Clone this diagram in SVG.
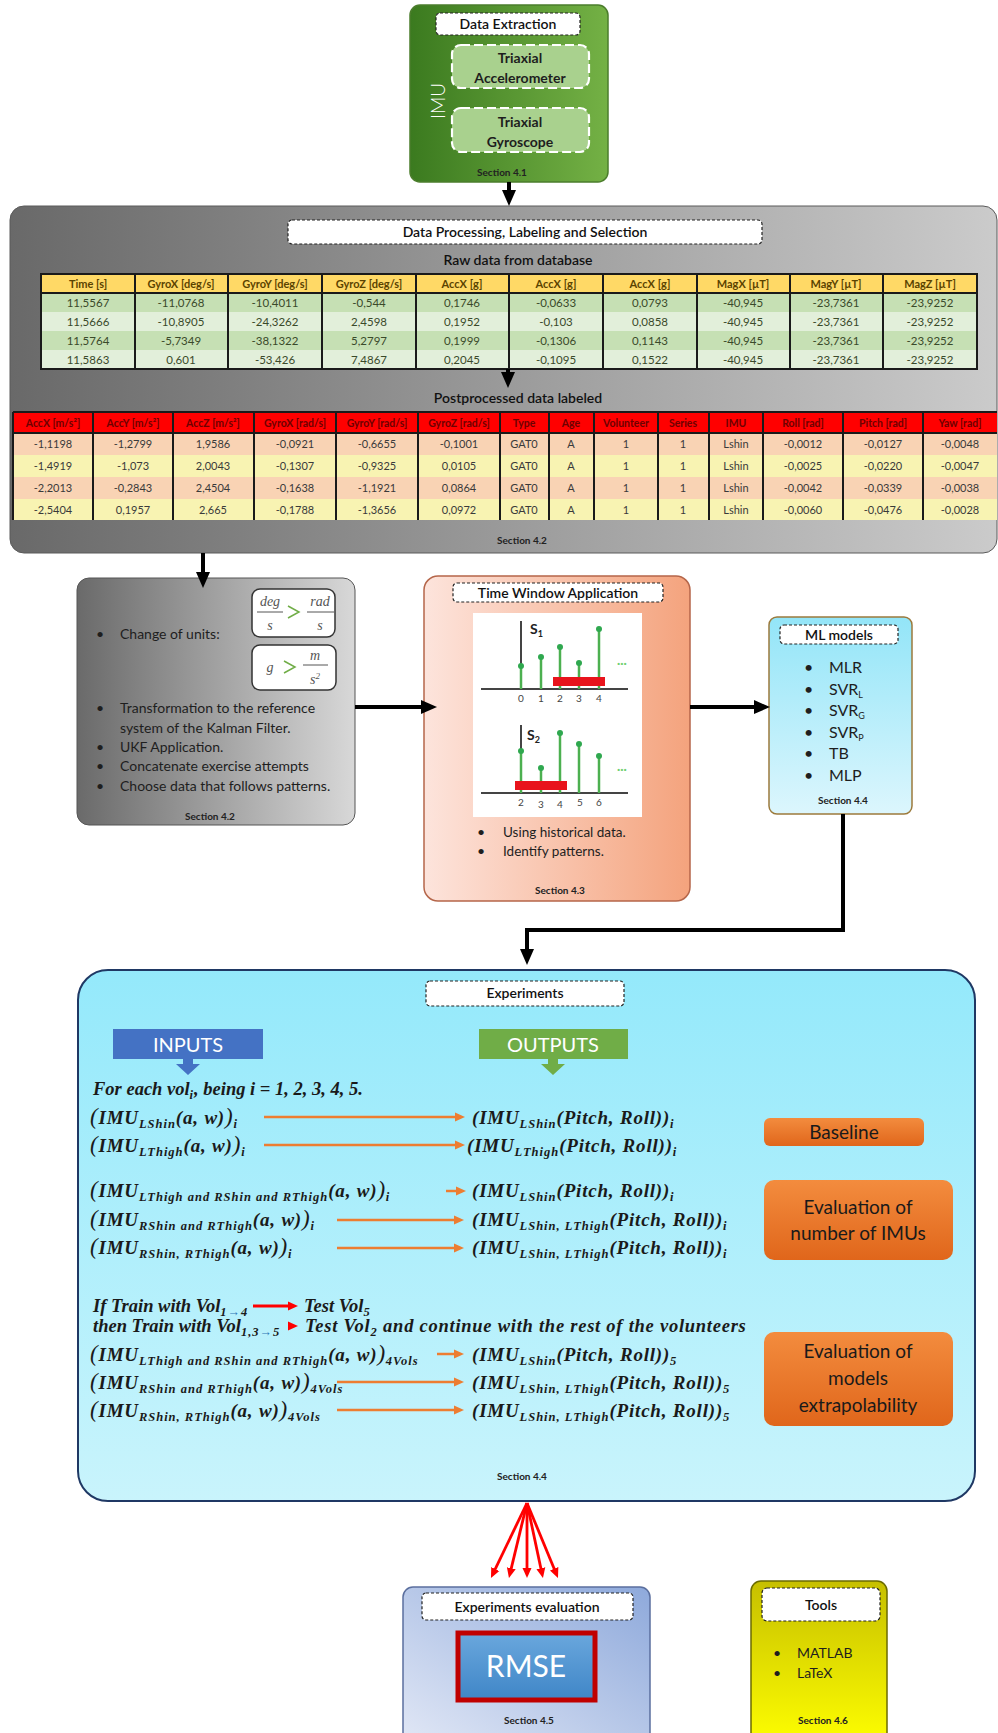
<svg xmlns="http://www.w3.org/2000/svg" width="998" height="1733" viewBox="0 0 998 1733">
<defs>
  <linearGradient id="gImu" x1="0" y1="0" x2="1" y2="0">
    <stop offset="0" stop-color="#3b7a1f"/><stop offset="1" stop-color="#74b145"/>
  </linearGradient>
  <linearGradient id="gGray" x1="0" y1="0" x2="1" y2="0">
    <stop offset="0" stop-color="#696969"/><stop offset="1" stop-color="#cbcbcb"/>
  </linearGradient>
  <linearGradient id="gGray2" x1="0" y1="0" x2="1" y2="0">
    <stop offset="0" stop-color="#6a6a6a"/><stop offset="1" stop-color="#d8d8d8"/>
  </linearGradient>
  <linearGradient id="gSalmon" x1="0" y1="0" x2="1" y2="0">
    <stop offset="0" stop-color="#fde4dc"/><stop offset="1" stop-color="#f4a37d"/>
  </linearGradient>
  <linearGradient id="gCyan" x1="0" y1="0" x2="0" y2="1">
    <stop offset="0" stop-color="#93e5f8"/><stop offset="1" stop-color="#dcf6fd"/>
  </linearGradient>
  <linearGradient id="gExp" x1="0" y1="0" x2="0" y2="1">
    <stop offset="0" stop-color="#94e9fb"/><stop offset="1" stop-color="#c9f4fc"/>
  </linearGradient>
  <linearGradient id="gOrange" x1="0" y1="0" x2="0" y2="1">
    <stop offset="0" stop-color="#f38c3e"/><stop offset="1" stop-color="#e0661b"/>
  </linearGradient>
  <linearGradient id="gEval" x1="1" y1="0" x2="0" y2="1">
    <stop offset="0" stop-color="#8ea9db"/><stop offset="1" stop-color="#e2e8f6"/>
  </linearGradient>
  <linearGradient id="gRmse" x1="0" y1="0" x2="0" y2="1">
    <stop offset="0" stop-color="#6aa7dd"/><stop offset="1" stop-color="#3f86c7"/>
  </linearGradient>
  <linearGradient id="gYellow" x1="0" y1="0" x2="0" y2="1">
    <stop offset="0" stop-color="#c6bf00"/><stop offset="1" stop-color="#ffff00"/>
  </linearGradient>
  <marker id="ahBlack" viewBox="0 0 16 16" markerUnits="userSpaceOnUse" markerWidth="16" markerHeight="16" refX="4" refY="8" orient="auto">
    <path d="M0,1 L16,8 L0,15 z" fill="#000"/>
  </marker>
  <marker id="ahOrange" viewBox="0 0 10 10" markerUnits="userSpaceOnUse" markerWidth="10" markerHeight="10" refX="2" refY="5" orient="auto">
    <path d="M0,0.5 L10,5 L0,9.5 z" fill="#ed7d31"/>
  </marker>
  <marker id="ahRed" viewBox="0 0 10 10" markerUnits="userSpaceOnUse" markerWidth="10" markerHeight="10" refX="3" refY="5" orient="auto">
    <path d="M0,0.5 L10,5 L0,9.5 z" fill="#ff0000"/>
  </marker>
  <style>
    text { font-family: Lato, "Liberation Sans", sans-serif; }
    .dash { fill: #fff; stroke: #222; stroke-width: 1.2; stroke-dasharray: 3 2; }
    .ttl { font-size: 14px; font-weight: 600; fill: #111; text-anchor: middle; }
    .sec { font-size: 10px; font-weight: 700; fill: #222; text-anchor: middle; }
    .tri { fill: #a9d18e; stroke: #fff; stroke-width: 2.2; stroke-dasharray: 9 4; }
    .triT { font-size: 14px; font-weight: 700; fill: #1e1e1e; text-anchor: middle; }
    .t1h { font-size: 11px; font-weight: 700; fill: #5b4300; text-anchor: middle; }
    .t1d { font-size: 11.5px; fill: #3a4a2a; text-anchor: middle; }
    .t2h { font-size: 10.5px; font-weight: 700; fill: #6e0000; text-anchor: middle; }
    .t2d { font-size: 11px; fill: #3a3a3a; text-anchor: middle; }
    .vsep { stroke: #1a1a1a; stroke-width: 2; }
    .body { font-size: 14px; fill: #1e1e1e; }
    .blt { font-size: 14px; fill: #1e1e1e; }
    .ml { font-size: 16px; fill: #1e1e1e; }
    .frac { font-family: "Liberation Serif", serif; font-style: italic; font-size: 14px; fill: #555; text-anchor: middle; }
    .m { font-family: "Liberation Serif", "DejaVu Serif", serif; font-style: italic; font-weight: 700; font-size: 19px; letter-spacing: 0.8px; fill: #1a1a1a; }
    .t { font-family: "Liberation Serif", "DejaVu Serif", serif; font-style: italic; font-weight: 700; font-size: 18.5px; fill: #1a1a1a; }
    .s { font-size: 12.5px; letter-spacing: 1px; }
    .bp { font-size: 23px; font-weight: 400; }
    .obox { fill: url(#gOrange); }
    .oT { font-size: 19px; fill: #1a1a1a; text-anchor: middle; }
    .conn { stroke: #000; stroke-width: 4; fill: none; marker-end: url(#ahBlack); }
    .oarr { stroke: #ed7d31; stroke-width: 2.5; marker-end: url(#ahOrange); }
    .rarr { stroke: #ff0000; stroke-width: 2.8; marker-end: url(#ahRed); }
    .stem { stroke: #4cb050; stroke-width: 2.5; }
    .dot { fill: #2fa84f; }
    .tick { font-size: 10px; fill: #444; text-anchor: middle; }
  </style>
</defs>

<rect width="998" height="1733" fill="#fff"/>

<!-- IMU data extraction -->
<g id="imu">
  <rect x="410" y="5" width="198" height="177" rx="10" fill="url(#gImu)" stroke="#4b7d2c" stroke-width="1.5"/>
  <rect class="dash" x="436" y="13" width="144" height="22" rx="4"/>
  <text class="ttl" x="508" y="29">Data Extraction</text>
  <rect class="tri" x="452" y="45" width="137" height="43" rx="9"/>
  <text class="triT" x="520" y="63">Triaxial</text>
  <text class="triT" x="520" y="83">Accelerometer</text>
  <rect class="tri" x="452" y="108" width="137" height="44" rx="9"/>
  <text class="triT" x="520" y="127">Triaxial</text>
  <text class="triT" x="520" y="147">Gyroscope</text>
  <text x="0" y="0" transform="translate(445,101) rotate(-90)" font-size="19" fill="#fff" text-anchor="middle" font-weight="300">IMU</text>
  <text class="sec" x="502" y="176">Section 4.1</text>
</g>

<!-- Data processing, labeling and selection -->
<g id="processing">
  <rect x="10" y="206" width="987" height="347" rx="14" fill="url(#gGray)" stroke="#5a5a5a" stroke-width="1"/>
  <rect class="dash" x="288" y="220" width="474" height="24" rx="4"/>
  <text class="ttl" x="525" y="237">Data Processing, Labeling and Selection</text>
  <text class="ttl" x="518" y="265">Raw data from database</text>

  <!-- raw table -->
  <rect x="41" y="274" width="936" height="19" fill="#ffd966"/>
  <rect x="41" y="293" width="936" height="19" fill="#c6e0b4"/>
  <rect x="41" y="312" width="936" height="19" fill="#e2efda"/>
  <rect x="41" y="331" width="936" height="19" fill="#c6e0b4"/>
  <rect x="41" y="350" width="936" height="19" fill="#e2efda"/>
  <g class="vsep">
    <line x1="135" y1="274" x2="135" y2="369"/><line x1="228" y1="274" x2="228" y2="369"/>
    <line x1="322" y1="274" x2="322" y2="369"/><line x1="416" y1="274" x2="416" y2="369"/>
    <line x1="509" y1="274" x2="509" y2="369"/><line x1="603" y1="274" x2="603" y2="369"/>
    <line x1="697" y1="274" x2="697" y2="369"/><line x1="790" y1="274" x2="790" y2="369"/>
    <line x1="883" y1="274" x2="883" y2="369"/>
    <line x1="41" y1="293" x2="977" y2="293"/>
  </g>
  <rect x="41" y="274" width="936" height="95" fill="none" stroke="#1a1a1a" stroke-width="2"/>
  <g class="t1h">
    <text x="88" y="288">Time [s]</text><text x="181" y="288">GyroX [deg/s]</text>
    <text x="275" y="288">GyroY [deg/s]</text><text x="369" y="288">GyroZ [deg/s]</text>
    <text x="462" y="288">AccX [g]</text><text x="556" y="288">AccX [g]</text>
    <text x="650" y="288">AccX [g]</text><text x="743" y="288">MagX [µT]</text>
    <text x="836" y="288">MagY [µT]</text><text x="930" y="288">MagZ [µT]</text>
  </g>
  <g class="t1d">
    <text x="88" y="307">11,5567</text><text x="181" y="307">-11,0768</text><text x="275" y="307">-10,4011</text><text x="369" y="307">-0,544</text><text x="462" y="307">0,1746</text><text x="556" y="307">-0,0633</text><text x="650" y="307">0,0793</text><text x="743" y="307">-40,945</text><text x="836" y="307">-23,7361</text><text x="930" y="307">-23,9252</text>
    <text x="88" y="326">11,5666</text><text x="181" y="326">-10,8905</text><text x="275" y="326">-24,3262</text><text x="369" y="326">2,4598</text><text x="462" y="326">0,1952</text><text x="556" y="326">-0,103</text><text x="650" y="326">0,0858</text><text x="743" y="326">-40,945</text><text x="836" y="326">-23,7361</text><text x="930" y="326">-23,9252</text>
    <text x="88" y="345">11,5764</text><text x="181" y="345">-5,7349</text><text x="275" y="345">-38,1322</text><text x="369" y="345">5,2797</text><text x="462" y="345">0,1999</text><text x="556" y="345">-0,1306</text><text x="650" y="345">0,1143</text><text x="743" y="345">-40,945</text><text x="836" y="345">-23,7361</text><text x="930" y="345">-23,9252</text>
    <text x="88" y="364">11,5863</text><text x="181" y="364">0,601</text><text x="275" y="364">-53,426</text><text x="369" y="364">7,4867</text><text x="462" y="364">0,2045</text><text x="556" y="364">-0,1095</text><text x="650" y="364">0,1522</text><text x="743" y="364">-40,945</text><text x="836" y="364">-23,7361</text><text x="930" y="364">-23,9252</text>
  </g>

  <text class="ttl" x="518" y="403">Postprocessed data labeled</text>

  <!-- labeled table -->
  <rect x="13" y="412" width="984" height="21" fill="#ff0000"/>
  <rect x="13" y="433" width="984" height="22" fill="#f9d3b4"/>
  <rect x="13" y="455" width="984" height="22" fill="#f8f3b2"/>
  <rect x="13" y="477" width="984" height="22" fill="#f9d3b4"/>
  <rect x="13" y="499" width="984" height="21" fill="#f8f3b2"/>
  <g class="vsep">
    <line x1="93" y1="412" x2="93" y2="520"/><line x1="173" y1="412" x2="173" y2="520"/>
    <line x1="254" y1="412" x2="254" y2="520"/><line x1="336" y1="412" x2="336" y2="520"/>
    <line x1="418" y1="412" x2="418" y2="520"/><line x1="500" y1="412" x2="500" y2="520"/>
    <line x1="549" y1="412" x2="549" y2="520"/><line x1="594" y1="412" x2="594" y2="520"/>
    <line x1="658" y1="412" x2="658" y2="520"/><line x1="709" y1="412" x2="709" y2="520"/>
    <line x1="763" y1="412" x2="763" y2="520"/><line x1="843" y1="412" x2="843" y2="520"/>
    <line x1="923" y1="412" x2="923" y2="520"/>
    <line x1="13" y1="433" x2="997" y2="433"/>
    <line x1="13" y1="412" x2="997" y2="412"/>
    <line x1="13" y1="412" x2="13" y2="520"/>
  </g>
  <g class="t2h">
    <text x="53" y="427">AccX [m/s²]</text><text x="133" y="427">AccY [m/s²]</text><text x="213" y="427">AccZ [m/s²]</text>
    <text x="295" y="427">GyroX [rad/s]</text><text x="377" y="427">GyroY [rad/s]</text><text x="459" y="427">GyroZ [rad/s]</text>
    <text x="524" y="427">Type</text><text x="571" y="427">Age</text><text x="626" y="427">Volunteer</text>
    <text x="683" y="427">Series</text><text x="736" y="427">IMU</text><text x="803" y="427">Roll [rad]</text>
    <text x="883" y="427">Pitch [rad]</text><text x="960" y="427">Yaw [rad]</text>
  </g>
  <g class="t2d">
    <text x="53" y="448">-1,1198</text><text x="133" y="448">-1,2799</text><text x="213" y="448">1,9586</text><text x="295" y="448">-0,0921</text><text x="377" y="448">-0,6655</text><text x="459" y="448">-0,1001</text><text x="524" y="448">GAT0</text><text x="571" y="448">A</text><text x="626" y="448">1</text><text x="683" y="448">1</text><text x="736" y="448">Lshin</text><text x="803" y="448">-0,0012</text><text x="883" y="448">-0,0127</text><text x="960" y="448">-0,0048</text>
    <text x="53" y="470">-1,4919</text><text x="133" y="470">-1,073</text><text x="213" y="470">2,0043</text><text x="295" y="470">-0,1307</text><text x="377" y="470">-0,9325</text><text x="459" y="470">0,0105</text><text x="524" y="470">GAT0</text><text x="571" y="470">A</text><text x="626" y="470">1</text><text x="683" y="470">1</text><text x="736" y="470">Lshin</text><text x="803" y="470">-0,0025</text><text x="883" y="470">-0,0220</text><text x="960" y="470">-0,0047</text>
    <text x="53" y="492">-2,2013</text><text x="133" y="492">-0,2843</text><text x="213" y="492">2,4504</text><text x="295" y="492">-0,1638</text><text x="377" y="492">-1,1921</text><text x="459" y="492">0,0864</text><text x="524" y="492">GAT0</text><text x="571" y="492">A</text><text x="626" y="492">1</text><text x="683" y="492">1</text><text x="736" y="492">Lshin</text><text x="803" y="492">-0,0042</text><text x="883" y="492">-0,0339</text><text x="960" y="492">-0,0038</text>
    <text x="53" y="514">-2,5404</text><text x="133" y="514">0,1957</text><text x="213" y="514">2,665</text><text x="295" y="514">-0,1788</text><text x="377" y="514">-1,3656</text><text x="459" y="514">0,0972</text><text x="524" y="514">GAT0</text><text x="571" y="514">A</text><text x="626" y="514">1</text><text x="683" y="514">1</text><text x="736" y="514">Lshin</text><text x="803" y="514">-0,0060</text><text x="883" y="514">-0,0476</text><text x="960" y="514">-0,0028</text>
  </g>
  <text class="sec" x="522" y="544">Section 4.2</text>
</g>

<!-- Unit change / filtering -->
<g id="filtering">
  <rect x="77" y="578" width="278" height="247" rx="12" fill="url(#gGray2)" stroke="#555" stroke-width="1"/>
  <text class="blt" x="96" y="639">•</text>
  <text class="body" x="120" y="639">Change of units:</text>
  <rect x="252" y="589" width="83" height="48" rx="8" fill="#fff" stroke="#333" stroke-width="1.5"/>
  <text class="frac" x="270" y="606">deg</text>
  <line x1="257" y1="612" x2="283" y2="612" stroke="#555" stroke-width="1"/>
  <text class="frac" x="270" y="630">s</text>
  <path d="M288,606 L299,612 L288,618" fill="none" stroke="#70ad47" stroke-width="1.5"/>
  <text class="frac" x="320" y="606">rad</text>
  <line x1="307" y1="612" x2="334" y2="612" stroke="#555" stroke-width="1"/>
  <text class="frac" x="320" y="630">s</text>
  <rect x="252" y="645" width="84" height="45" rx="8" fill="#fff" stroke="#333" stroke-width="1.5"/>
  <text class="frac" x="270" y="672">g</text>
  <path d="M284,661 L295,667 L284,673" fill="none" stroke="#70ad47" stroke-width="1.5"/>
  <text class="frac" x="315" y="660">m</text>
  <line x1="303" y1="665" x2="328" y2="665" stroke="#555" stroke-width="1"/>
  <text class="frac" x="315" y="684">s<tspan font-size="9" dy="-5">2</tspan></text>
  <text class="blt" x="96" y="713">•</text>
  <text class="body" x="120" y="713">Transformation to the reference</text>
  <text class="body" x="120" y="733">system of the Kalman Filter.</text>
  <text class="blt" x="96" y="752">•</text>
  <text class="body" x="120" y="752">UKF Application.</text>
  <text class="blt" x="96" y="771">•</text>
  <text class="body" x="120" y="771">Concatenate exercise attempts</text>
  <text class="blt" x="96" y="791">•</text>
  <text class="body" x="120" y="791">Choose data that follows patterns.</text>
  <text class="sec" x="210" y="820">Section 4.2</text>
</g>

<!-- Time window -->
<g id="timewindow">
  <rect x="424" y="576" width="266" height="325" rx="14" fill="url(#gSalmon)" stroke="#b5664a" stroke-width="1.5"/>
  <rect class="dash" x="453" y="583" width="210" height="19" rx="4"/>
  <text class="ttl" x="558" y="598">Time Window Application</text>
  <rect x="473" y="613" width="169" height="204" fill="#fff"/>
  <!-- first window -->
  <line x1="481" y1="689" x2="628" y2="689" stroke="#444" stroke-width="2"/>
  <line x1="521" y1="621" x2="521" y2="689" stroke="#444" stroke-width="2"/>
  <text x="530" y="634" font-size="14" font-weight="700" fill="#222">S<tspan font-size="9" dy="3">1</tspan></text>
  <line class="stem" x1="521" y1="666" x2="521" y2="689"/>
  <line class="stem" x1="541" y1="657" x2="541" y2="689"/>
  <line class="stem" x1="560" y1="647" x2="560" y2="689"/>
  <line class="stem" x1="579" y1="663" x2="579" y2="689"/>
  <line class="stem" x1="599" y1="629" x2="599" y2="689"/>
  <circle class="dot" cx="521" cy="666" r="3"/><circle class="dot" cx="541" cy="657" r="3"/>
  <circle class="dot" cx="560" cy="647" r="3"/><circle class="dot" cx="579" cy="663" r="3"/>
  <circle class="dot" cx="599" cy="629" r="3"/>
  <rect x="553" y="677" width="52" height="9" fill="#e8141c"/>
  <text x="617" y="667" font-size="12" fill="#6fcf6f" font-weight="700">···</text>
  <g class="tick">
    <text x="521" y="702">0</text><text x="541" y="702">1</text><text x="560" y="702">2</text><text x="579" y="702">3</text><text x="599" y="702">4</text>
  </g>
  <!-- second window -->
  <line x1="481" y1="793" x2="628" y2="793" stroke="#444" stroke-width="2"/>
  <line x1="521" y1="725" x2="521" y2="793" stroke="#444" stroke-width="2"/>
  <text x="527" y="740" font-size="14" font-weight="700" fill="#222">S<tspan font-size="9" dy="3">2</tspan></text>
  <line class="stem" x1="521" y1="751" x2="521" y2="793"/>
  <line class="stem" x1="541" y1="768" x2="541" y2="793"/>
  <line class="stem" x1="560" y1="733" x2="560" y2="793"/>
  <line class="stem" x1="579" y1="744" x2="579" y2="793"/>
  <line class="stem" x1="599" y1="756" x2="599" y2="793"/>
  <circle class="dot" cx="521" cy="751" r="3"/><circle class="dot" cx="541" cy="768" r="3"/>
  <circle class="dot" cx="560" cy="733" r="3"/><circle class="dot" cx="579" cy="744" r="3"/>
  <circle class="dot" cx="599" cy="756" r="3"/>
  <rect x="515" y="781" width="52" height="9" fill="#e8141c"/>
  <text x="617" y="773" font-size="12" fill="#6fcf6f" font-weight="700">···</text>
  <g class="tick">
    <text x="521" y="806">2</text><text x="541" y="808">3</text><text x="560" y="808">4</text><text x="580" y="806">5</text><text x="599" y="806">6</text>
  </g>
  <text class="blt" x="477" y="837">•</text>
  <text x="503" y="837" font-size="13.5" fill="#1e1e1e">Using historical data.</text>
  <text class="blt" x="477" y="856">•</text>
  <text x="503" y="856" font-size="13.5" fill="#1e1e1e">Identify patterns.</text>
  <text class="sec" x="560" y="894">Section 4.3</text>
</g>

<!-- ML models -->
<g id="mlmodels">
  <rect x="769" y="617" width="143" height="197" rx="8" fill="url(#gCyan)" stroke="#9c7a3c" stroke-width="1.5"/>
  <rect class="dash" x="780" y="625" width="118" height="19" rx="4"/>
  <text class="ttl" x="839" y="640">ML models</text>
  <g class="ml">
    <text x="804" y="673">•</text><text x="829" y="673">MLR</text>
    <text x="804" y="695">•</text><text x="829" y="695">SVR<tspan font-size="9" dy="3">L</tspan></text>
    <text x="804" y="716">•</text><text x="829" y="716">SVR<tspan font-size="9" dy="3">G</tspan></text>
    <text x="804" y="738">•</text><text x="829" y="738">SVR<tspan font-size="9" dy="3">P</tspan></text>
    <text x="804" y="759">•</text><text x="829" y="759">TB</text>
    <text x="804" y="781">•</text><text x="829" y="781">MLP</text>
  </g>
  <text class="sec" x="843" y="804">Section 4.4</text>
</g>

<!-- Experiments -->
<g id="experiments">
  <rect x="78" y="970" width="897" height="531" rx="30" fill="url(#gExp)" stroke="#1f3864" stroke-width="2"/>
  <rect class="dash" x="426" y="981" width="198" height="25" rx="4"/>
  <text class="ttl" x="525" y="998" font-size="13">Experiments</text>

  <rect x="113" y="1029" width="150" height="30" fill="#4472c4"/>
  <polygon points="183,1059 193,1059 193,1064 200,1064 188,1075 176,1064 183,1064" fill="#4472c4"/>
  <text x="188" y="1052" font-size="20" fill="#fff" text-anchor="middle">INPUTS</text>
  <rect x="479" y="1029" width="149" height="30" fill="#70ad47"/>
  <polygon points="548,1059 558,1059 558,1064 565,1064 553,1075 541,1064 548,1064" fill="#70ad47"/>
  <text x="553" y="1052" font-size="20" fill="#fff" text-anchor="middle">OUTPUTS</text>

  <text class="t" x="93" y="1095">For each vol<tspan class="s" dy="4">i</tspan><tspan dy="-4">, being i = 1, 2, 3, 4, 5.</tspan></text>

  <text class="m" x="90" y="1124"><tspan class="bp">(</tspan>IMU<tspan class="s" dy="4">LShin</tspan><tspan dy="-4">(a, w)</tspan><tspan class="bp">)</tspan><tspan class="s" dy="4">i</tspan></text>
  <text class="m" x="472" y="1124">(IMU<tspan class="s" dy="4">LShin</tspan><tspan dy="-4">(Pitch, Roll))</tspan><tspan class="s" dy="4">i</tspan></text>

  <text class="m" x="90" y="1152"><tspan class="bp">(</tspan>IMU<tspan class="s" dy="4">LThigh</tspan><tspan dy="-4">(a, w)</tspan><tspan class="bp">)</tspan><tspan class="s" dy="4">i</tspan></text>
  <text class="m" x="467" y="1152">(IMU<tspan class="s" dy="4">LThigh</tspan><tspan dy="-4">(Pitch, Roll))</tspan><tspan class="s" dy="4">i</tspan></text>

  <text class="m" x="90" y="1197"><tspan class="bp">(</tspan>IMU<tspan class="s" dy="4">LThigh and RShin and RThigh</tspan><tspan dy="-4">(a, w)</tspan><tspan class="bp">)</tspan><tspan class="s" dy="4">i</tspan></text>
  <text class="m" x="472" y="1197">(IMU<tspan class="s" dy="4">LShin</tspan><tspan dy="-4">(Pitch, Roll))</tspan><tspan class="s" dy="4">i</tspan></text>

  <text class="m" x="90" y="1226"><tspan class="bp">(</tspan>IMU<tspan class="s" dy="4">RShin and RThigh</tspan><tspan dy="-4">(a, w)</tspan><tspan class="bp">)</tspan><tspan class="s" dy="4">i</tspan></text>
  <text class="m" x="472" y="1226">(IMU<tspan class="s" dy="4">LShin, LThigh</tspan><tspan dy="-4">(Pitch, Roll))</tspan><tspan class="s" dy="4">i</tspan></text>

  <text class="m" x="90" y="1254"><tspan class="bp">(</tspan>IMU<tspan class="s" dy="4">RShin, RThigh</tspan><tspan dy="-4">(a, w)</tspan><tspan class="bp">)</tspan><tspan class="s" dy="4">i</tspan></text>
  <text class="m" x="472" y="1254">(IMU<tspan class="s" dy="4">LShin, LThigh</tspan><tspan dy="-4">(Pitch, Roll))</tspan><tspan class="s" dy="4">i</tspan></text>

  <text class="t" x="93" y="1312">If Train with Vol<tspan class="s" dy="4">1</tspan><tspan class="s" fill="#2e75b6">→</tspan><tspan class="s">4</tspan></text>
  <text class="t" x="304" y="1312">Test Vol<tspan class="s" dy="4">5</tspan></text>
  <text class="t" x="93" y="1332">then Train with Vol<tspan class="s" dy="4">1,3</tspan><tspan class="s" fill="#2e75b6">→</tspan><tspan class="s">5</tspan></text>
  <text class="t" x="305" y="1332" letter-spacing="0.75">Test Vol<tspan class="s" dy="4">2</tspan><tspan dy="-4"> and continue with the rest of the volunteers</tspan></text>

  <text class="m" x="90" y="1361"><tspan class="bp">(</tspan>IMU<tspan class="s" dy="4">LThigh and RShin and RThigh</tspan><tspan dy="-4">(a, w)</tspan><tspan class="bp">)</tspan><tspan class="s" dy="4">4Vols</tspan></text>
  <text class="m" x="472" y="1361">(IMU<tspan class="s" dy="4">LShin</tspan><tspan dy="-4">(Pitch, Roll))</tspan><tspan class="s" dy="4">5</tspan></text>

  <text class="m" x="90" y="1389"><tspan class="bp">(</tspan>IMU<tspan class="s" dy="4">RShin and RThigh</tspan><tspan dy="-4">(a, w)</tspan><tspan class="bp">)</tspan><tspan class="s" dy="4">4Vols</tspan></text>
  <text class="m" x="472" y="1389">(IMU<tspan class="s" dy="4">LShin, LThigh</tspan><tspan dy="-4">(Pitch, Roll))</tspan><tspan class="s" dy="4">5</tspan></text>

  <text class="m" x="90" y="1417"><tspan class="bp">(</tspan>IMU<tspan class="s" dy="4">RShin, RThigh</tspan><tspan dy="-4">(a, w)</tspan><tspan class="bp">)</tspan><tspan class="s" dy="4">4Vols</tspan></text>
  <text class="m" x="472" y="1417">(IMU<tspan class="s" dy="4">LShin, LThigh</tspan><tspan dy="-4">(Pitch, Roll))</tspan><tspan class="s" dy="4">5</tspan></text>

  <!-- input to output arrows -->
  <line class="oarr" x1="264" y1="1117" x2="457" y2="1117"/>
  <line class="oarr" x1="264" y1="1145" x2="457" y2="1145"/>
  <line class="oarr" x1="446" y1="1191" x2="458" y2="1191"/>
  <line class="oarr" x1="337" y1="1220" x2="456" y2="1220"/>
  <line class="oarr" x1="337" y1="1248" x2="456" y2="1248"/>
  <line class="oarr" x1="437" y1="1354" x2="456" y2="1354"/>
  <line class="oarr" x1="337" y1="1382" x2="456" y2="1382"/>
  <line class="oarr" x1="337" y1="1410" x2="456" y2="1410"/>
  <line class="rarr" x1="253" y1="1306" x2="291" y2="1306"/>
  <line class="rarr" x1="290" y1="1326" x2="291" y2="1326"/>

  <!-- experiment groups -->
  <rect class="obox" x="764" y="1118" width="160" height="28" rx="6"/>
  <text class="oT" x="844" y="1139">Baseline</text>
  <rect class="obox" x="764" y="1180" width="189" height="80" rx="10"/>
  <text class="oT" x="858" y="1214">Evaluation of</text>
  <text class="oT" x="858" y="1240">number of IMUs</text>
  <rect class="obox" x="764" y="1332" width="189" height="94" rx="10"/>
  <text class="oT" x="858" y="1358">Evaluation of</text>
  <text class="oT" x="858" y="1385">models</text>
  <text class="oT" x="858" y="1412">extrapolability</text>

  <text class="sec" x="522" y="1480">Section 4.4</text>
</g>

<!-- Experiments evaluation -->
<g id="evaluation">
  <rect x="403" y="1587" width="247" height="160" rx="10" fill="url(#gEval)" stroke="#5b6f9e" stroke-width="1.5"/>
  <rect class="dash" x="422" y="1593" width="211" height="27" rx="4"/>
  <text class="ttl" x="527" y="1612">Experiments evaluation</text>
  <rect x="458" y="1633" width="137" height="67" fill="url(#gRmse)" stroke="#c00000" stroke-width="5"/>
  <text x="526" y="1677" font-size="30" fill="#fff" text-anchor="middle">RMSE</text>
  <text class="sec" x="529" y="1724">Section 4.5</text>
</g>

<!-- Tools -->
<g id="tools">
  <rect x="751" y="1581" width="136" height="166" rx="10" fill="url(#gYellow)" stroke="#6b6b00" stroke-width="1.5"/>
  <rect class="dash" x="762" y="1588" width="118" height="33" rx="5"/>
  <text class="ttl" x="821" y="1610">Tools</text>
  <text x="773" y="1658" font-size="14" fill="#1e1e1e">•</text>
  <text x="797" y="1658" font-size="14" fill="#1e1e1e">MATLAB</text>
  <text x="773" y="1678" font-size="14" fill="#1e1e1e">•</text>
  <text x="797" y="1678" font-size="14" fill="#1e1e1e">LaTeX</text>
  <text class="sec" x="823" y="1724">Section 4.6</text>
</g>

<!-- Connectors -->
<g id="connectors">
  <line class="conn" x1="509" y1="182" x2="509" y2="194"/>
  <line class="conn" x1="508" y1="369" x2="508" y2="376"/>
  <line class="conn" x1="203" y1="553" x2="203" y2="576"/>
  <line class="conn" x1="355" y1="707" x2="425" y2="707"/>
  <line class="conn" x1="690" y1="707" x2="758" y2="707"/>
  <path class="conn" d="M843,814 V930 H527 V953"/>
  <g>
    <line class="rarr" x1="527" y1="1503" x2="494" y2="1571.7"/>
    <line class="rarr" x1="527" y1="1503" x2="510.6" y2="1571.2"/>
    <line class="rarr" x1="527" y1="1503" x2="527" y2="1571"/>
    <line class="rarr" x1="527" y1="1503" x2="541.5" y2="1571.2"/>
    <line class="rarr" x1="527" y1="1503" x2="555.3" y2="1571.5"/>
  </g>
</g>
</svg>
